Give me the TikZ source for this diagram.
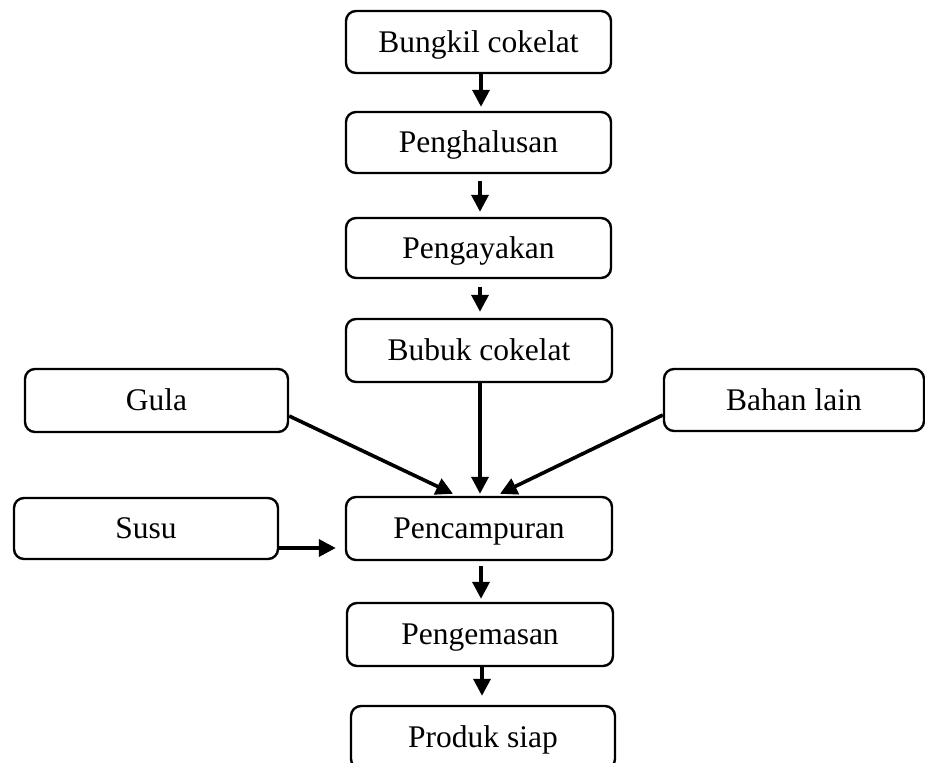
\documentclass[tikz,border=0pt]{standalone}
\usepackage{fontspec}
\setmainfont{Liberation Serif}
\usetikzlibrary{arrows.meta}
\tikzset{
  box/.style={draw=black, line width=2.4pt, rounded corners=10pt, inner sep=0pt,
    minimum height=62pt, text height=20.5pt, text depth=0pt,
    font=\fontsize{31.5}{37}\selectfont},
  arr/.style={line width=3.6pt, -{Triangle[length=17pt,width=17pt]}}
}
\begin{document}
\begin{tikzpicture}[x=1pt,y=-1pt]
\useasboundingbox (0,0) rectangle (925,762);
\clip (0,0) rectangle (925,762);
\node[box, minimum width=265pt] (b1) at (478.5,42) {Bungkil cokelat};
\node[box, minimum width=265pt, minimum height=61pt] (b2) at (478.5,142.5) {Penghalusan};
\node[box, minimum width=265pt, minimum height=60pt] (b3) at (478.5,248) {Pengayakan};
\node[box, minimum width=266pt, minimum height=63pt] (b4) at (479,350.5) {Bubuk cokelat};
\node[box, minimum width=263pt, minimum height=63pt] (gula) at (156.5,400.5) {Gula};
\node[box, minimum width=260pt, minimum height=62pt] (bahan) at (794,400) {Bahan lain};
\node[box, minimum width=264pt, minimum height=61pt] (susu) at (146,528.5) {Susu};
\node[box, minimum width=266pt, minimum height=63pt] (mix) at (479,528.5) {Pencampuran};
\node[box, minimum width=266pt, minimum height=63pt] (pack) at (480,634.5) {Pengemasan};
\node[box, minimum width=264pt, minimum height=63pt] (prod) at (483,737.5) {Produk siap};

\draw[arr, shorten >=4pt] ([xshift=2.5pt]b1.south) -- ([xshift=2.5pt]b1.south |- b2.north);
\draw[arr, shorten <=7pt, shorten >=5pt] ([xshift=1.5pt]b2.south) -- ([xshift=1.5pt]b2.south |- b3.north);
\draw[arr, shorten <=8pt, shorten >=6pt] ([xshift=1.5pt]b3.south) -- ([xshift=1.5pt]b3.south |- b4.north);
\draw[arr, shorten >=2pt] ([xshift=1pt]b4.south) -- ([xshift=1pt]b4.south |- mix.north);
\draw[arr] ([yshift=-15.5pt]gula.east) -- ([xshift=-26pt,yshift=2pt]mix.north);
\draw[arr] ([yshift=-15pt]bahan.west) -- ([xshift=21pt,yshift=2pt]mix.north);
\draw[arr] ([yshift=-19.5pt]susu.east) -- ([xshift=-9pt,yshift=-19.5pt]mix.west);
\draw[arr, shorten <=5pt, shorten >=3pt] ([xshift=2pt]mix.south) -- ([xshift=2pt]mix.south |- pack.north);
\draw[arr, shorten >=9pt] ([xshift=2pt]pack.south) -- ([xshift=2pt]pack.south |- prod.north);
\end{tikzpicture}
\end{document}
